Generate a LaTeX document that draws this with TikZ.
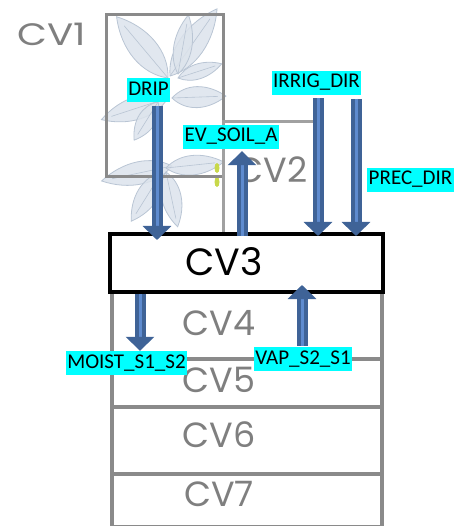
\documentclass[tikz,border=0pt]{standalone}
\usepackage{fontspec}
\setmainfont{Carlito}
\newfontfamily\cvfont{Poppins}
\usepackage{xcolor}
\usetikzlibrary{positioning,arrows.meta,calc}

\definecolor{flowblue}{HTML}{3F6397}
\definecolor{flowlight}{HTML}{5E8BCF}
\definecolor{tagcyan}{HTML}{00FFFF}
\definecolor{cvgray}{HTML}{8A8A8A}
\definecolor{cvtext}{HTML}{7F7F7F}
\definecolor{leaffill}{HTML}{DCE3EC}
\definecolor{leafedge}{HTML}{B9C5D4}
\definecolor{budgreen}{HTML}{C8D84A}

% one leaf: base x, base y, angle, length, half width
\newcommand{\leaf}[5]{%
  \begin{scope}[shift={(#1,#2)}, rotate=#3]
    \filldraw[leafstyle] (0,0) .. controls (0.25*#4,#5) and (0.65*#4,#5) .. (#4,0)
      .. controls (0.65*#4,-#5) and (0.25*#4,-#5) .. (0,0) -- cycle;
    \draw[leafedge, line width=0.6pt] (0,0) -- (0.85*#4,0);
  \end{scope}}

\begin{document}
\begin{tikzpicture}[x=1pt, y=-1pt,
    cvbox/.style={draw=cvgray, line width=3.5pt, inner sep=0pt, anchor=north west},
    cvlabel/.style={font=\cvfont\fontsize{35}{35}\selectfont, text=cvtext, inner sep=0pt},
    tag/.style={fill=tagcyan, font=\fontsize{21}{24}\selectfont, inner xsep=1.5pt,
        inner ysep=1pt, text height=16pt, text depth=6pt},
    flow/.style={draw=flowblue, line width=4pt, double=flowlight, double distance=3pt,
        -{Triangle[width=28pt, length=14pt]}},
    leafstyle/.style={fill=leaffill, draw=leafedge, line width=0.8pt, fill opacity=0.85}]

\useasboundingbox (0,0) rectangle (460,526);

% Plant
\leaf{168}{78}{130}{80}{18}
\leaf{170}{76}{55}{82}{17}
\leaf{178}{74}{80}{60}{12}
\leaf{178}{78}{18}{46}{10}
\leaf{168}{98}{198}{70}{15}
\leaf{172}{98}{2}{54}{14}
\leaf{158}{102}{238}{45}{12}
\leaf{172}{166}{192}{72}{15}
\leaf{166}{168}{6}{58}{13}
\leaf{162}{172}{238}{58}{14}
\leaf{166}{172}{282}{56}{13}
\fill[budgreen] (217,168) ellipse (2.5 and 5);
\fill[budgreen] (217,182) ellipse (2.5 and 5);

% Canopy and surface
\node[cvbox, line width=3pt, minimum width=117pt, minimum height=162pt] (cv1) at (105,13) {};
\node[cvbox, line width=3pt, draw=cvgray!80, minimum width=96pt, minimum height=112pt] (cv2) at (222,120) {};

% Soil layers
\foreach \name/\top/\bot in {cv4/290/357, cv5/357/405, cv6/405/472, cv7/472/525} {
    \node[cvbox, minimum width=270pt, minimum height={(\bot-\top)*1pt}] (\name) at (110,\top) {};
}
\node[cvbox, draw=black, line width=4pt, minimum width=273pt, minimum height=58pt] (cv3) at (108,232) {};

% Layer names
\node[cvlabel, font=\cvfont\fontsize{31}{31}\selectfont, xscale=1.25, transform shape] (cv1-txt) at (52,34) {CV1};
\node[cvlabel] (cv2-txt) at (272,170) {CV2};
\node[cvlabel, text=black, font=\cvfont\fontsize{38}{38}\selectfont] (cv3-txt) at (224,262) {CV3};
\foreach \name/\y in {4/323, 5/380, 6/435, 7/494} {
    \node[cvlabel] (cv\name-txt) at (219,\y) {CV\name};
}

% Flux tags
\node[tag] (drip) at (148.5,90.5) {DRIP};
\node[tag] (evsoil) at (231,137) {EV\_SOIL\_A};
\node[tag] (irrig) at (316.5,83) {IRRIG\_DIR};
\node[tag] (prec) at (410.5,180) {PREC\_DIR};
\node[tag] (moist) at (126.5,363) {MOIST\_S1\_S2};
\node[tag] (vap) at (303,359) {VAP\_S2\_S1};
\coordinate (prectop) at (356,99);

% Fluxes
\draw[flow, shorten <=3pt, shorten >=-8pt] ([xshift=8.5pt]drip.south) -- ([xshift=8.5pt]drip.south |- cv3.north);
\draw[flow, shorten <=-4pt, shorten >=2pt] ([xshift=11pt]evsoil.south |- cv3.north) -- ([xshift=11pt]evsoil.south);
\draw[flow, shorten <=3pt, shorten >=-4pt] ([xshift=1.5pt]irrig.south) -- ([xshift=1.5pt]irrig.south |- cv3.north);
\draw[flow, shorten >=-4pt] (prectop) -- (prectop |- cv3.north);
\draw[flow] ([xshift=13.5pt]moist.north |- cv3.south) -- ([xshift=13.5pt]moist.north);
\draw[flow, shorten <=1pt, shorten >=-9pt] ([xshift=-1pt]vap.north) -- ([xshift=-1pt]vap.north |- cv3.south);

\end{tikzpicture}
\end{document}
